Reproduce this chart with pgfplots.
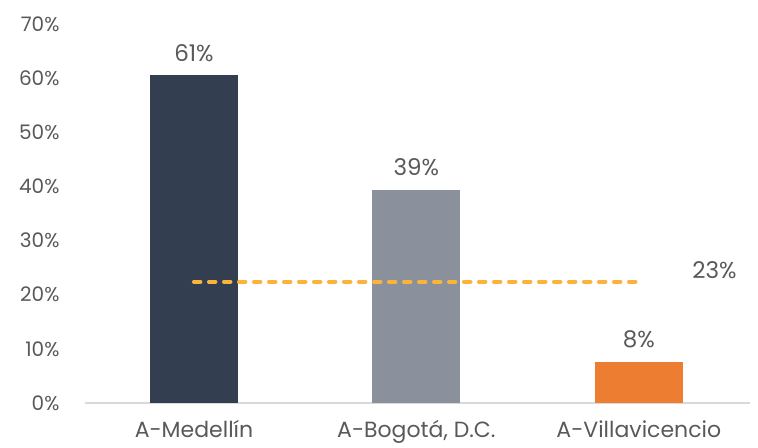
\documentclass[border=0pt]{standalone}
\usepackage{fontspec}
\setmainfont{Poppins}
\usepackage{pgfplots}
\pgfplotsset{compat=1.18}
\definecolor{txt}{HTML}{595959}
\definecolor{bA}{HTML}{333F50}
\definecolor{bB}{HTML}{8A909C}
\definecolor{bC}{HTML}{ED7D31}
\definecolor{avg}{HTML}{FBB33B}
\begin{document}
\begin{tikzpicture}
\begin{axis}[
  scale only axis,
  width=665pt, height=379pt,
  xmin=-0.49, xmax=2.5,
  ymin=0, ymax=70,
  ytick={0,10,...,70},
  yticklabel={\pgfmathprintnumber{\tick}\%},
  xtick={0,1,2},
  xticklabels={A-Medellín, A-Bogotá{,} D.C., A-Villavicencio},
  axis x line=bottom, axis y line=left,
  x axis line style={draw=black!15, line width=1.2pt, -},
  y axis line style={draw=none},
  major tick length=0pt,
  /pgf/number format/assume math mode=true,
  tick label style={font=\fontsize{20}{22}\selectfont, text=txt},
  xticklabel style={font=\fontsize{22}{24}\selectfont, yshift=-14pt},
  yticklabel style={xshift=-22pt},
  ybar, bar width=88pt, bar shift=0pt,
  nodes near coords={\pgfmathprintnumber[fixed,precision=0]{\pgfplotspointmeta}\%},
  every node near coord/.append style={font=\fontsize{23}{26}\selectfont, text=txt, yshift=10pt},
  clip=false,
]
\addplot[fill=bA, draw=none] coordinates {(0,60.6)};
\addplot[fill=bB, draw=none] coordinates {(1,39.4)};
\addplot[fill=bC, draw=none] coordinates {(2,7.6)};
\addplot[sharp plot, nodes near coords={}, draw=avg, line width=4pt, line cap=round, dash pattern=on 6.5pt off 8.5pt] coordinates {(0,22.4) (2,22.4)};
\node[font=\fontsize{23}{26}\selectfont, text=txt] at (axis cs:2.34,24.6) {23\%};
\end{axis}
\useasboundingbox ([shift={(-85pt,-42pt)}]current axis.south west) rectangle ([shift={(8pt,24pt)}]current axis.north east);
\end{tikzpicture}
\end{document}
